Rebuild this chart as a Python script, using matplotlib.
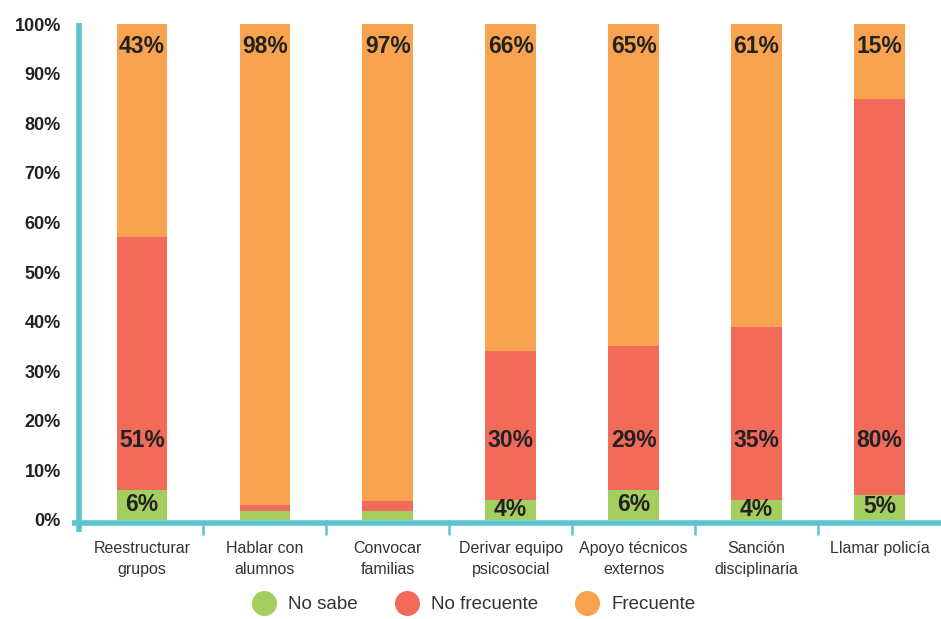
import numpy as np
import matplotlib.pyplot as plt
from matplotlib.lines import Line2D

plt.rcParams['font.family'] = ['Liberation Sans', 'DejaVu Sans']

categorias = ['Reestructurar\ngrupos', 'Hablar con\nalumnos', 'Convocar\nfamilias',
              'Derivar equipo\npsicosocial', 'Apoyo técnicos\nexternos', 'Sanción\ndisciplinaria',
              'Llamar policía']
no_sabe = [6, 1.8, 1.8, 4, 6, 4, 5]
no_frecuente = [51, 1.2, 2, 30, 29, 35, 80]
frecuente = [43, 98, 97, 66, 65, 61, 15]

# etiquetas que se muestran (None = sin etiqueta)
lbl_no_sabe = ['6%', None, None, '4%', '6%', '4%', '5%']
lbl_no_frec = ['51%', None, None, '30%', '29%', '35%', '80%']
lbl_frec = ['43%', '98%', '97%', '66%', '65%', '61%', '15%']

verde = '#A4CE5F'
rojo = '#F26A5A'
naranja = '#F8A34F'
teal = '#5BC5CF'
texto = '#222222'

x = np.arange(len(categorias))
ns = np.array(no_sabe)
nf = np.array(no_frecuente)
fr = np.array(frecuente)

fig = plt.figure(figsize=(9.41, 6.19), dpi=100)
ax = fig.add_axes([0.084, 0.16, 0.916, 0.801])

w = 0.41
ax.bar(x, ns, w, color=verde, zorder=2)
ax.bar(x, nf, w, bottom=ns, color=rojo, zorder=2)
ax.bar(x, fr, w, bottom=ns + nf, color=naranja, zorder=2)

for i in range(len(x)):
    if lbl_no_sabe[i]:
        ax.text(x[i], ns[i] / 2 + 0.2, lbl_no_sabe[i], ha='center', va='center',
                fontsize=16.5, fontweight='bold', color=texto, zorder=3)
    if lbl_no_frec[i]:
        ax.text(x[i], 16, lbl_no_frec[i], ha='center', va='center',
                fontsize=16.5, fontweight='bold', color=texto, zorder=3)
    ax.text(x[i], 95.5, lbl_frec[i], ha='center', va='center',
            fontsize=16.5, fontweight='bold', color=texto, zorder=3)

ax.set_xlim(-0.51, 6.5)
ax.set_ylim(0, 100)
for s in ax.spines.values():
    s.set_visible(False)

# ejes en color turquesa
ax.axhline(-0.6, xmin=-0.008, xmax=1, color=teal, lw=4, clip_on=False, zorder=4,
           solid_capstyle='butt')
ax.axvline(-0.51, ymin=-0.025, ymax=1.003, color=teal, lw=4, clip_on=False, zorder=4,
           solid_capstyle='butt')

ax.set_yticks(np.arange(0, 101, 10))
ax.set_yticklabels([f'{v}%' for v in range(0, 101, 10)], fontsize=13,
                   fontweight='bold', color=texto)
ax.tick_params(axis='y', length=0, pad=13)

ax.set_xticks(x)
ax.set_xticklabels(categorias, fontsize=11.5, color='#333333', linespacing=1.55)
ax.tick_params(axis='x', which='major', length=0, pad=15)
ax.set_xticks(x[:-1] + 0.5, minor=True)
ax.tick_params(axis='x', which='minor', length=11, width=1.8, color=teal, direction='out')

handles = [Line2D([], [], marker='o', ls='', markersize=17, color=c)
           for c in (verde, rojo, naranja)]
fig.legend(handles, ['No sabe', 'No frecuente', 'Frecuente'], loc='lower center',
           bbox_to_anchor=(0.5, -0.018), ncol=3, frameon=False, fontsize=13.5,
           handletextpad=0.3, columnspacing=1.6, labelcolor='#333333')

fig.savefig('out.png', dpi=100)
